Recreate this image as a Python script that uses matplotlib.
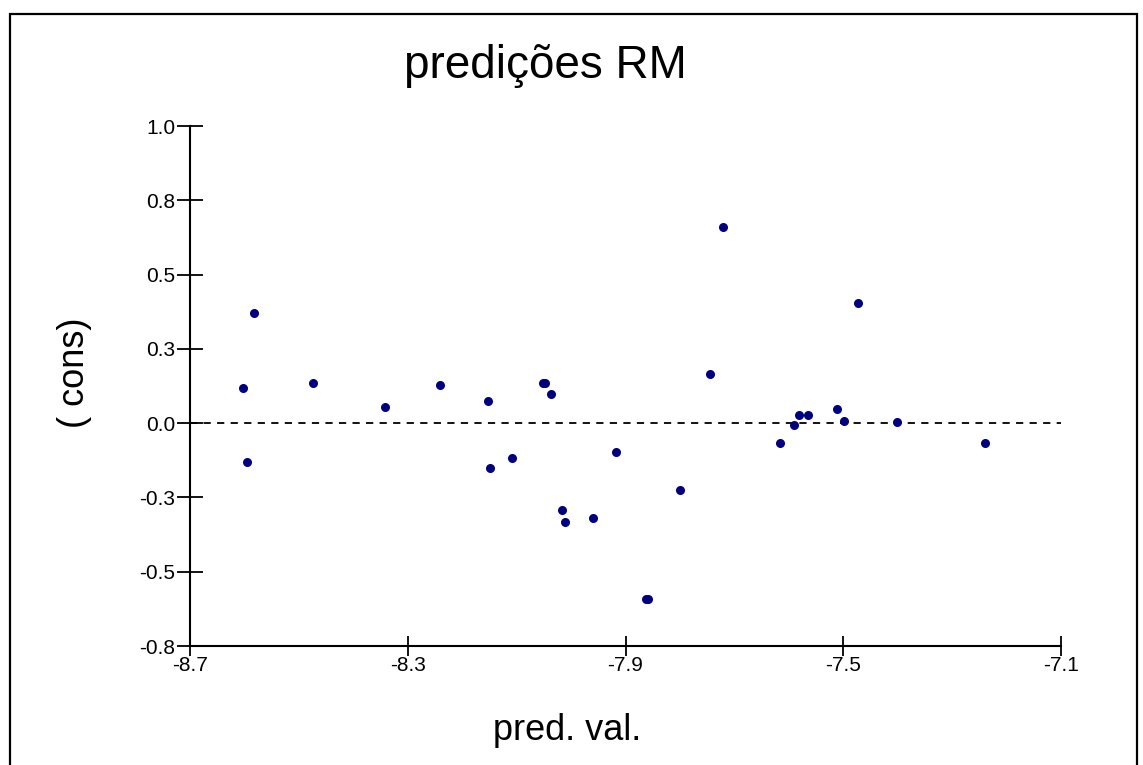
import matplotlib
matplotlib.use("Agg")
import matplotlib.pyplot as plt
from matplotlib.patches import Rectangle

plt.rcParams['font.family'] = ['Liberation Sans', 'DejaVu Sans']

# Data
pred_val = [-8.603, -8.596, -8.583, -8.474, -8.341, -8.241, -8.152, -8.148,
            -8.109, -8.052, -8.048, -8.036, -8.016, -8.012, -7.959, -7.917,
            -7.863, -7.859, -7.800, -7.744, -7.720, -7.617, -7.591, -7.581,
            -7.564, -7.511, -7.498, -7.472, -7.402, -7.239]
cons = [0.119, -0.131, 0.371, 0.134, 0.056, 0.128, 0.074, -0.151,
        -0.117, 0.134, 0.134, 0.098, -0.291, -0.333, -0.318, -0.096,
        -0.592, -0.592, -0.224, 0.164, 0.659, -0.066, -0.006, 0.026,
        0.026, 0.047, 0.008, 0.403, 0.003, -0.066]

x_ticks = [-8.7, -8.3, -7.9, -7.5, -7.1]
x_tick_labels = ["-8.7", "-8.3", "-7.9", "-7.5", "-7.1"]
y_ticks = [-0.75, -0.5, -0.25, 0.0, 0.25, 0.5, 0.75, 1.0]
y_tick_labels = ["-0.8", "-0.5", "-0.3", "0.0", "0.3", "0.5", "0.8", "1.0"]

W, H = 1143, 765
fig = plt.figure(figsize=(W / 100, H / 100), dpi=100)
fig.patch.set_facecolor('white')

# outer frame
fig.patches.append(Rectangle((10 / W, -0.05), (1137 - 10) / W, 1.05 - 14 / H,
                             transform=fig.transFigure, fill=False,
                             edgecolor='black', linewidth=1.6))

ax = fig.add_axes([190 / W, 1 - 646 / H, (1061 - 190) / W, (646 - 126) / H])
ax.set_xlim(-8.7, -7.1)
ax.set_ylim(-0.75, 1.0)
for s in ['top', 'right']:
    ax.spines[s].set_visible(False)
for s in ['left', 'bottom']:
    ax.spines[s].set_linewidth(1.5)
    ax.spines[s].set_color('black')

ax.axhline(0.0, color='black', linewidth=1.3, linestyle=(0, (4, 3.5)))
ax.plot(pred_val, cons, linestyle='none', marker='o', markersize=6.5,
        color='#000080', markeredgewidth=0)

ax.set_xticks(x_ticks)
ax.set_xticklabels(x_tick_labels)
ax.set_yticks(y_ticks)
ax.set_yticklabels(y_tick_labels)
ax.tick_params(axis='y', direction='inout', length=19, width=1.3, pad=1,
               labelsize=15, colors='black')
ax.tick_params(axis='x', direction='inout', length=15, width=1.3, pad=0,
               labelsize=15, colors='black')

fig.text(545 / W, 1 - 66 / H, "predições RM", ha='center', va='center',
         fontsize=33)
fig.text(567 / W, 1 - 730 / H, "pred. val.", ha='center', va='center',
         fontsize=26)
fig.text(75 / W, 1 - 373 / H, "( cons)", ha='center', va='center',
         fontsize=26, rotation=90)

fig.savefig("out.png", dpi=100, facecolor='white')
